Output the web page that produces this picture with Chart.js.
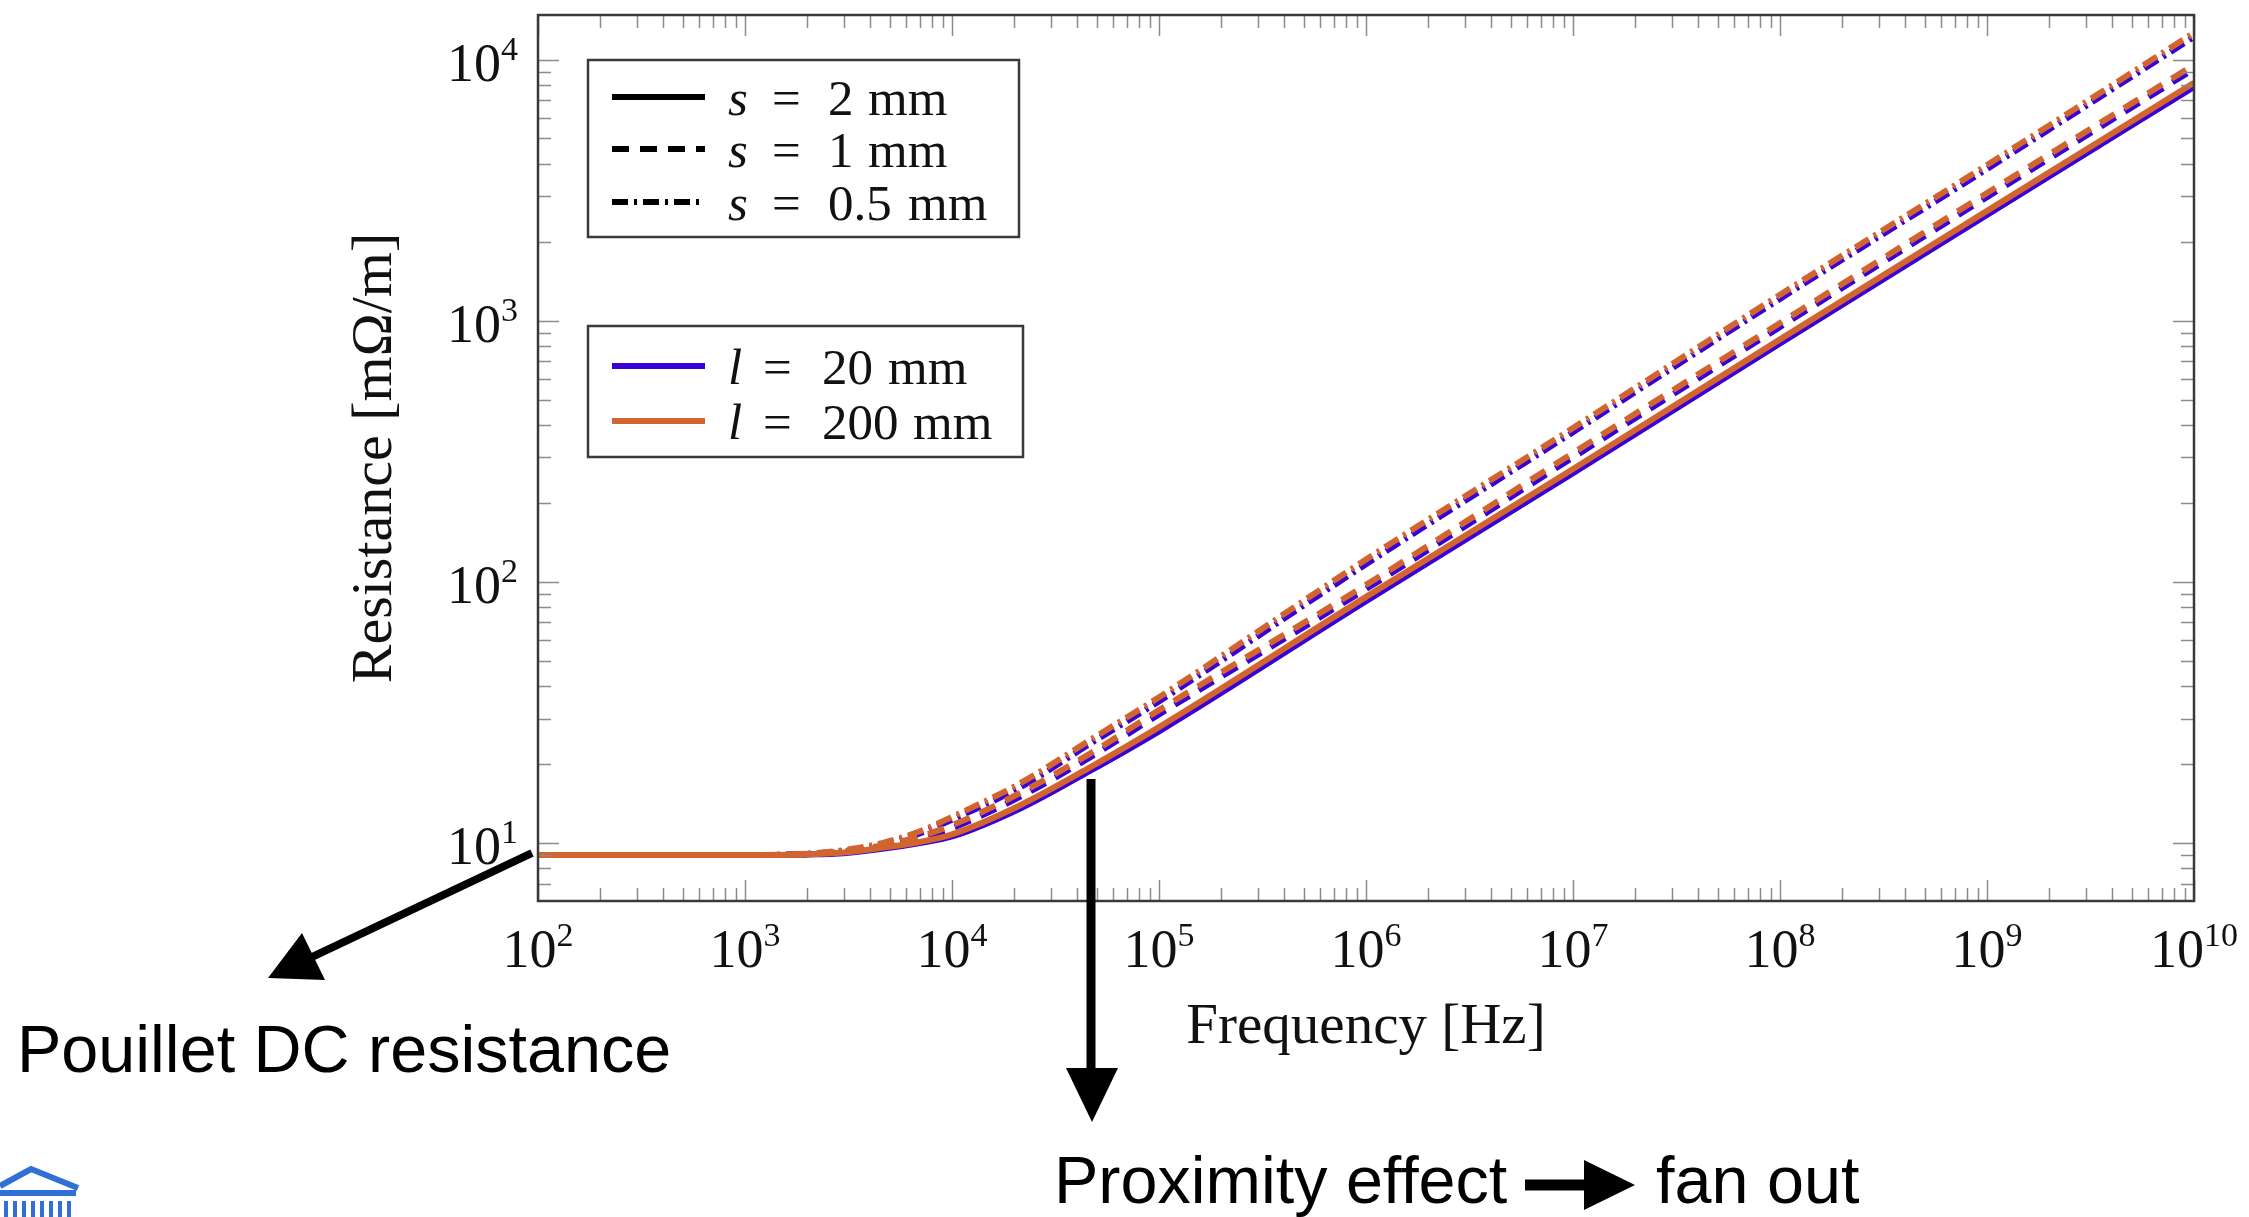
<!DOCTYPE html>
<html>
<head>
<meta charset="utf-8">
<script src="https://cdn.jsdelivr.net/npm/chart.js@4.4.1/dist/chart.umd.min.js"></script>
<style>
  html, body { margin: 0; padding: 0; background: #fff; }
  #wrap { position: relative; width: 2249px; height: 1217px; }
</style>
</head>
<body>
<div id="wrap"><canvas id="myChart" width="2249" height="1217"></canvas></div>
<script>
// frequencies [Hz]
const freq = [100, 1000, 2000, 3000, 4600, 7000, 10000, 21500, 46400, 1e5, 1e6, 1e7, 1e8, 1e9, 1e10];

// l = 200 mm (orange), resistance [mOhm/m]
const r200_s2  = [9.0, 9.0, 9.05, 9.2, 9.6, 10.1, 10.8, 14.0, 19.5, 27.8, 87.7, 271, 850, 2640, 8170];
const r200_s1  = [9.0, 9.0, 9.1, 9.3, 9.8, 10.6, 11.7, 15.6, 22.0, 32.3, 97.5, 312, 982, 3090, 9570];
const r200_s05 = [9.0, 9.0, 9.1, 9.4, 10.0, 11.1, 12.6, 17.0, 24.8, 36.2, 122, 389, 1260, 3960, 12700];

// l = 20 mm (blue)
const r20_s2  = [9.0, 9.0, 9.05, 9.15, 9.5, 10.0, 10.6, 13.6, 18.9, 26.8, 84.5, 261, 820, 2550, 7880];
const r20_s1  = [9.0, 9.0, 9.05, 9.25, 9.7, 10.4, 11.4, 15.1, 21.3, 31.1, 94.0, 300, 948, 2980, 9230];
const r20_s05 = [9.0, 9.0, 9.1, 9.35, 9.9, 10.9, 12.3, 16.4, 24.0, 34.9, 117, 375, 1215, 3820, 12250];

// axis ticks (powers of ten) and their exponents
const xTickVals = [1e2, 1e3, 1e4, 1e5, 1e6, 1e7, 1e8, 1e9, 1e10];
const xTickExp  = ['2', '3', '4', '5', '6', '7', '8', '9', '10'];
const yTickVals = [1e1, 1e2, 1e3, 1e4];
const yTickExp  = ['1', '2', '3', '4'];

const X_MIN = 1e2, X_MAX = 1e10;
const Y_MIN = 6.0, Y_MAX = 14860;

const BLUE = '#3700d6';
const ORANGE = '#d2652f';
const DASHED = [17, 11];
const DASHDOT = [16, 6, 3, 6];

const SERIF = '"Liberation Serif", "DejaVu Serif", serif';
const SANS = '"Liberation Sans", Arial, sans-serif';

function series(label, values, color, dash) {
    return {
        label,
        data: freq.map((f, i) => ({ x: f, y: values[i] })),
        borderColor: color,
        backgroundColor: color,
        borderWidth: 6,
        borderDash: dash,
        borderCapStyle: 'butt',
        pointRadius: 0,
        cubicInterpolationMode: 'monotone',
        fill: false,
    };
}

// decade ticks + minor ticks 2..9
function logTicks(min, max) {
    const out = [];
    for (let e = Math.floor(Math.log10(min)); e <= Math.ceil(Math.log10(max)); e++) {
        for (let m = 1; m <= 9; m++) {
            const v = m * Math.pow(10, e);
            if (v >= min * 1.0001 || (m === 1 && v >= min)) {
                if (v <= max * 1.0001) out.push({ value: v, major: m === 1 });
            }
        }
    }
    return out;
}

function drawPow(ctx, exp, x, y, align) {
    const big = 54, small = 34;
    ctx.save();
    ctx.fillStyle = '#111';
    ctx.textBaseline = 'alphabetic';
    ctx.font = `${big}px ${SERIF}`;
    const wb = ctx.measureText('10').width;
    ctx.font = `${small}px ${SERIF}`;
    const we = ctx.measureText(exp).width;
    const x0 = align === 'center' ? x - (wb + we) / 2 : x - (wb + we);
    ctx.font = `${big}px ${SERIF}`;
    ctx.fillText('10', x0, y);
    ctx.font = `${small}px ${SERIF}`;
    ctx.fillText(exp, x0 + wb, y - 21);
    ctx.restore();
}

function arrowHead(ctx, tip, base1, base2) {
    ctx.beginPath();
    ctx.moveTo(tip[0], tip[1]);
    ctx.lineTo(base1[0], base1[1]);
    ctx.lineTo(base2[0], base2[1]);
    ctx.closePath();
    ctx.fill();
}

const framePlugin = {
    id: 'frame',
    afterDatasetsDraw(chart) {
        const { ctx, chartArea: ca } = chart;
        const xs = chart.scales.x, ys = chart.scales.y;
        ctx.save();
        ctx.strokeStyle = '#8c8c8c';
        ctx.lineWidth = 1.5;
        ctx.beginPath();
        xs.ticks.forEach(t => {
            const px = Math.round(xs.getPixelForValue(t.value)) + 0.5;
            const len = t.major ? 21 : 13;
            ctx.moveTo(px, ca.bottom); ctx.lineTo(px, ca.bottom - len);
            ctx.moveTo(px, ca.top); ctx.lineTo(px, ca.top + len);
        });
        ys.ticks.forEach(t => {
            const py = Math.round(ys.getPixelForValue(t.value)) + 0.5;
            const len = t.major ? 21 : 13;
            ctx.moveTo(ca.left, py); ctx.lineTo(ca.left + len, py);
            ctx.moveTo(ca.right, py); ctx.lineTo(ca.right - len, py);
        });
        ctx.stroke();

        ctx.strokeStyle = '#3a3a3a';
        ctx.lineWidth = 2.5;
        ctx.strokeRect(ca.left, ca.top, ca.right - ca.left, ca.bottom - ca.top);
        ctx.restore();

        xTickVals.forEach((v, i) => drawPow(ctx, xTickExp[i], xs.getPixelForValue(v), ca.bottom + 66, 'center'));
        yTickVals.forEach((v, i) => drawPow(ctx, yTickExp[i], ca.left - 20, ys.getPixelForValue(v) + 21, 'right'));
    },
    afterDraw(chart) {
        const { ctx, chartArea: ca } = chart;
        const L = ca.left, T = ca.top;

        // legend boxes
        ctx.save();
        ctx.fillStyle = '#fff';
        ctx.strokeStyle = '#3a3a3a';
        ctx.lineWidth = 2.5;
        ctx.fillRect(L + 50, T + 45, 431, 177);
        ctx.strokeRect(L + 50, T + 45, 431, 177);
        ctx.fillRect(L + 50, T + 311, 435, 131);
        ctx.strokeRect(L + 50, T + 311, 435, 131);

        const rows = [
            { y: T + 82, color: '#000', dash: [], parts: [['s', 0, true], ['=', 44], ['2', 100], ['mm', 140]] },
            { y: T + 134, color: '#000', dash: DASHED, parts: [['s', 0, true], ['=', 44], ['1', 100], ['mm', 140]] },
            { y: T + 187, color: '#000', dash: DASHDOT, parts: [['s', 0, true], ['=', 44], ['0.5', 100], ['mm', 180]] },
            { y: T + 351, color: BLUE, dash: [], parts: [['l', 0, true], ['=', 35], ['20', 94], ['mm', 160]] },
            { y: T + 406, color: ORANGE, dash: [], parts: [['l', 0, true], ['=', 35], ['200', 94], ['mm', 185]] },
        ];
        rows.forEach(r => {
            ctx.save();
            ctx.strokeStyle = r.color;
            ctx.lineWidth = 6;
            ctx.lineCap = 'butt';
            ctx.setLineDash(r.dash);
            ctx.beginPath();
            ctx.moveTo(L + 74, r.y);
            ctx.lineTo(L + 167, r.y);
            ctx.stroke();
            ctx.restore();
            ctx.fillStyle = '#111';
            ctx.textBaseline = 'alphabetic';
            r.parts.forEach(([txt, dx, it]) => {
                ctx.font = `${it ? 'italic ' : ''}51px ${SERIF}`;
                ctx.fillText(txt, L + 190 + dx, r.y + 18);
            });
        });

        // annotation arrows
        ctx.fillStyle = '#000';
        ctx.strokeStyle = '#000';
        ctx.lineCap = 'butt';
        ctx.lineWidth = 8;
        ctx.beginPath();
        ctx.moveTo(532, 853);
        ctx.lineTo(312, 957);
        ctx.stroke();
        arrowHead(ctx, [268, 978], [302, 933], [325, 980]);

        ctx.lineWidth = 9;
        ctx.beginPath();
        ctx.moveTo(1091, 779);
        ctx.lineTo(1091, 1072);
        ctx.stroke();
        arrowHead(ctx, [1092, 1122], [1066, 1068], [1118, 1068]);

        ctx.lineWidth = 11;
        ctx.beginPath();
        ctx.moveTo(1525, 1185);
        ctx.lineTo(1590, 1185);
        ctx.stroke();
        arrowHead(ctx, [1635, 1185], [1584, 1160], [1584, 1210]);

        ctx.font = `66.5px ${SANS}`;
        ctx.fillText('Pouillet DC resistance', 17, 1072);
        ctx.font = `66.5px ${SANS}`;
        ctx.fillText('Proximity effect', 1054, 1203);
        ctx.fillText('fan out', 1656, 1203);

        // logo fragment bottom-left
        ctx.strokeStyle = '#2f6fd6';
        ctx.fillStyle = '#2f6fd6';
        ctx.lineWidth = 6;
        ctx.beginPath();
        ctx.moveTo(0, 1186);
        ctx.lineTo(31, 1169);
        ctx.lineTo(78, 1188);
        ctx.stroke();
        ctx.fillRect(0, 1190, 76, 6);
        for (let x = 4; x < 70; x += 9) ctx.fillRect(x, 1201, 4, 16);
        ctx.restore();
    }
};

const ctx = document.getElementById('myChart');

new Chart(ctx, {
    type: 'line',
    data: {
        datasets: [
            series('s = 0.5 mm, l = 200 mm', r200_s05, ORANGE, DASHDOT),
            series('s = 1 mm, l = 200 mm', r200_s1, ORANGE, DASHED),
            series('s = 2 mm, l = 200 mm', r200_s2, ORANGE, []),
            series('s = 0.5 mm, l = 20 mm', r20_s05, BLUE, DASHDOT),
            series('s = 1 mm, l = 20 mm', r20_s1, BLUE, DASHED),
            series('s = 2 mm, l = 20 mm', r20_s2, BLUE, []),
        ]
    },
    options: {
        responsive: false,
        animation: false,
        devicePixelRatio: 1,
        layout: { padding: { top: 15, right: 55, left: 0, bottom: 0 } },
        plugins: {
            legend: { display: false },
            tooltip: { enabled: false },
        },
        scales: {
            x: {
                type: 'logarithmic',
                position: 'bottom',
                min: X_MIN,
                max: X_MAX,
                grid: { display: false },
                border: { display: false },
                ticks: { display: false },
                afterBuildTicks: (scale) => { scale.ticks = logTicks(X_MIN, X_MAX); },
                afterFit: (scale) => { scale.height = 316; },
                title: {
                    display: true,
                    text: 'Frequency [Hz]',
                    color: '#111',
                    font: { family: SERIF, size: 57 },
                    padding: { top: 0, bottom: 155 },
                },
            },
            y: {
                type: 'logarithmic',
                position: 'left',
                min: Y_MIN,
                max: Y_MAX,
                grid: { display: false },
                border: { display: false },
                ticks: { display: false },
                afterBuildTicks: (scale) => { scale.ticks = logTicks(Y_MIN, Y_MAX); },
                afterFit: (scale) => { scale.width = 538; },
                title: {
                    display: true,
                    text: 'Resistance [mΩ/m]',
                    color: '#111',
                    font: { family: SERIF, size: 58 },
                    padding: { top: 341, bottom: 0 },
                },
            },
        },
    },
    plugins: [framePlugin],
});
</script>
</body>
</html>
